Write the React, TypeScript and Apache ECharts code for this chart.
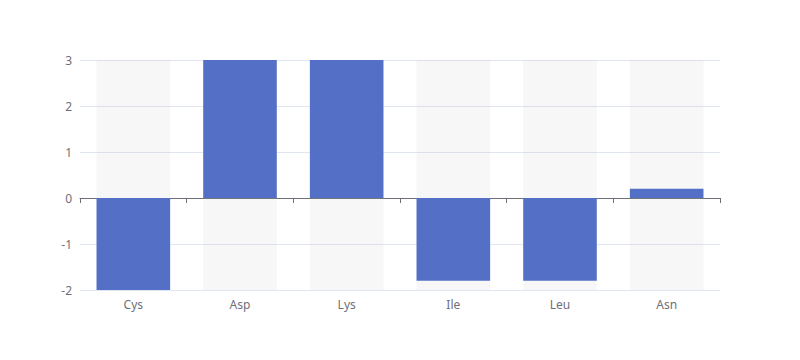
import React, { useEffect, useRef } from "react";
import * as echarts from "echarts";

const categories = ["Cys", "Asp", "Lys", "Ile", "Leu", "Asn"];
const values = [-2, 3, 3, -1.8, -1.8, 0.2];
const yMin = -2;
const yMax = 3;

export default function App() {
  const ref = useRef<HTMLDivElement>(null);
  useEffect(() => {
    if (!ref.current) return;
    const chart = echarts.init(ref.current, undefined, { renderer: "svg" });
    chart.setOption({
      animation: false,
      textStyle: { fontFamily: "Noto Sans" },
      grid: { left: 80, right: 80, top: 60, bottom: 70 },
      xAxis: {
        type: "category",
        data: categories,
        axisLine: { onZero: true, lineStyle: { color: "#6E7079" } },
        axisTick: { show: true, alignWithLabel: false },
        axisLabel: { color: "#6E7079", fontSize: 12 },
      },
      yAxis: {
        type: "value",
        min: yMin,
        max: yMax,
        interval: 1,
        axisLabel: { color: "#6E7079", fontSize: 12 },
        splitLine: { lineStyle: { color: "#E0E6F1" } },
      },
      series: [
        {
          type: "bar",
          data: values,
          barWidth: "69%",
          showBackground: true,
          backgroundStyle: { color: "rgba(180,180,180,0.1)" },
          itemStyle: { color: "#5470c6" },
        },
      ],
    });
    return () => chart.dispose();
  }, []);
  return (
    <div
      ref={ref}
      style={{ position: "absolute", left: 0, top: 0, width: 800, height: 360 }}
    />
  );
}
